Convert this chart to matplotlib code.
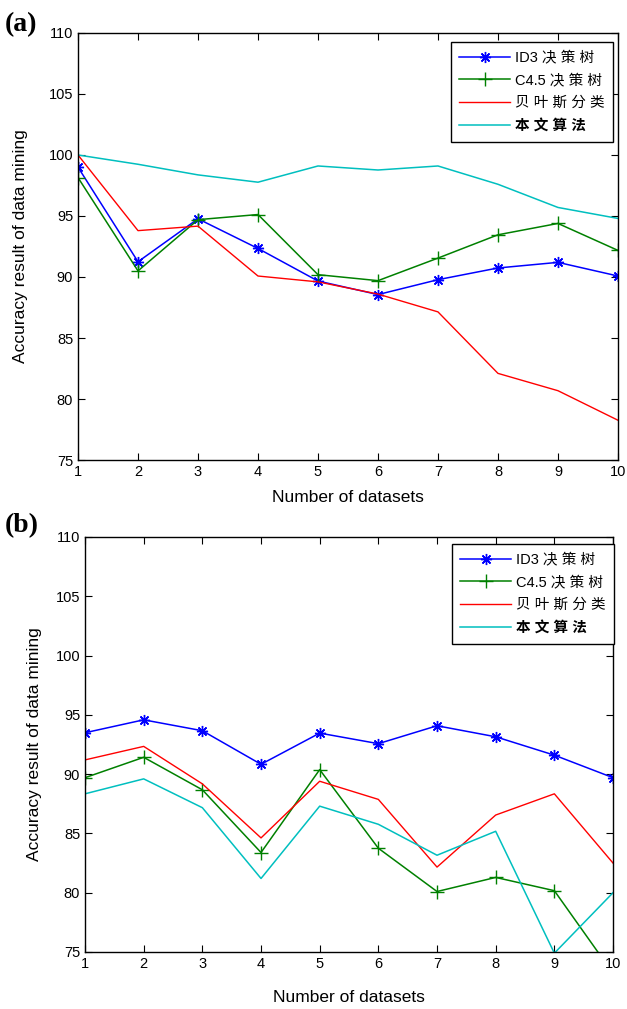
import numpy as np
import matplotlib.pyplot as plt

plt.rcParams['font.family'] = ['Liberation Sans', 'Noto Sans CJK SC', 'DejaVu Sans']

datasets = [1, 2, 3, 4, 5, 6, 7, 8, 9, 10]
labels = ['ID3 决 策 树', 'C4.5 决 策 树', '贝 叶 斯 分 类', '本 文 算 法']

# panel (a)
id3_a = [99.0, 91.25, 94.77, 92.34, 89.67, 88.56, 89.78, 90.74, 91.2, 90.08]
c45_a = [98.15, 90.5, 94.7, 95.12, 90.19, 89.7, 91.55, 93.46, 94.39, 92.18]
bayes_a = [100.0, 93.8, 94.17, 90.08, 89.6, 88.6, 87.14, 82.1, 80.68, 78.26]
ours_a = [100.0, 99.24, 98.37, 97.77, 99.1, 98.77, 99.1, 97.6, 95.7, 94.8]

# panel (b)
id3_b = [93.49, 94.58, 93.66, 90.83, 93.46, 92.57, 94.08, 93.15, 91.6, 89.7]
c45_b = [89.7, 91.42, 88.68, 83.39, 90.38, 83.75, 80.1, 81.29, 80.17, 73.2]
bayes_b = [91.2, 92.34, 89.18, 84.62, 89.4, 87.87, 82.16, 86.55, 88.34, 82.5]
ours_b = [88.34, 89.6, 87.17, 81.2, 87.3, 85.77, 83.16, 85.18, 74.9, 80.0]

yticks = [75, 80, 85, 90, 95, 100, 105, 110]

fig = plt.figure(figsize=(6.27, 10.09), dpi=100)
ax1 = fig.add_axes([0.1244, 0.5441, 0.8612, 0.4232])
ax2 = fig.add_axes([0.1356, 0.0565, 0.8421, 0.4113])

asterisk = (8, 2, 0)


def draw(ax, id3, c45, bayes, ours, xpad, ypad, leg_anchor):
    ax.plot(datasets, id3, color='#0000ff', lw=1.1, marker=asterisk, ms=8,
            mew=1.0, label=labels[0])
    ax.plot(datasets, c45, color='#008000', lw=1.1, marker='+', ms=10,
            mew=1.0, label=labels[1])
    ax.plot(datasets, bayes, color='#ff0000', lw=1.0, label=labels[2])
    ax.plot(datasets, ours, color='#00bfbf', lw=1.1, label=labels[3])
    ax.set_xlim(1, 10)
    ax.set_ylim(75, 110)
    ax.set_xticks(datasets)
    ax.set_yticks(yticks)
    ax.tick_params(direction='in', top=True, right=True, labelsize=10.5,
                   length=5, width=0.8)
    for s in ax.spines.values():
        s.set_linewidth(1.0)
    ax.set_xlabel('Number of datasets', fontsize=12.5, labelpad=xpad)
    ax.set_ylabel('Accuracy result of data mining', fontsize=12.5, labelpad=ypad)
    leg = ax.legend(loc='upper right', bbox_to_anchor=leg_anchor,
                    fontsize=10.5, frameon=True, fancybox=False,
                    edgecolor='black', framealpha=1, handlelength=3.5,
                    handletextpad=0.3, borderaxespad=0, labelspacing=0.6,
                    borderpad=0.6)
    leg.get_frame().set_linewidth(1.0)
    leg.get_texts()[3].set_fontweight('bold')


draw(ax1, id3_a, c45_a, bayes_a, ours_a, 8, 15, (0.991, 0.979))
draw(ax2, id3_b, c45_b, bayes_b, ours_b, 14, 10, (1.002, 0.983))

fig.text(0.008, 0.976, '(a)', fontsize=20, fontweight='bold',
         family='Liberation Serif', va='center')
fig.text(0.008, 0.479, '(b)', fontsize=20, fontweight='bold',
         family='Liberation Serif', va='center')

fig.savefig('out.png', dpi=100)
